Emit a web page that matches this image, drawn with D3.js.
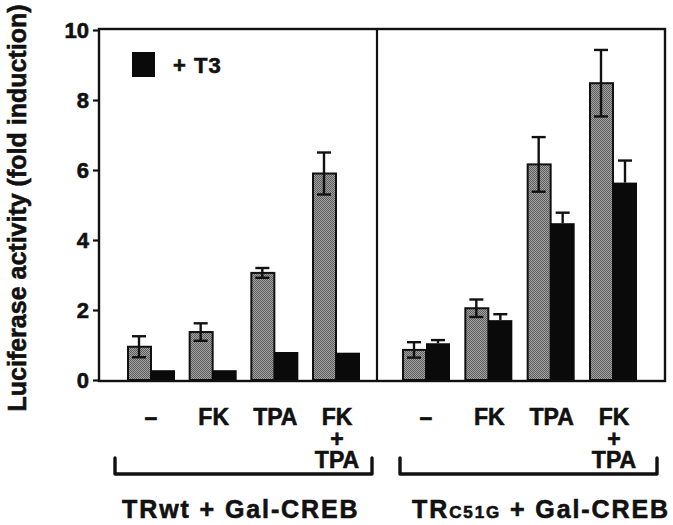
<!DOCTYPE html>
<html>
<head>
<meta charset="utf-8">
<script src="https://cdn.jsdelivr.net/npm/d3@7/dist/d3.min.js"></script>
<style>
  html, body { margin: 0; padding: 0; background: #fff; }
  svg { display: block; }
  text { font-family: "Liberation Sans", Arial, Helvetica, sans-serif; font-weight: bold; fill: #111; stroke: #111; stroke-width: 0.6px; }
</style>
</head>
<body>
<svg id="chart" width="673" height="525"></svg>
<script>
// ---------- data ----------
const conditions = ["–", "FK", "TPA", "FK+TPA"];
const conditionLines = [["–"], ["FK"], ["TPA"], ["FK", "+", "TPA"]];
const yTicks = [0, 2, 4, 6, 8, 10];
const yLabel = "Luciferase activity (fold induction)";
const legendLabel = "+ T3";

const wtControl = [0.95, 1.37, 3.06, 5.90];
const wtControlErr = [0.30, 0.25, 0.14, 0.60];
const wtT3 = [0.28, 0.28, 0.80, 0.78];
const wtT3Err = [0, 0, 0, 0];

const c51gControl = [0.86, 2.05, 6.16, 8.48];
const c51gControlErr = [0.22, 0.25, 0.78, 0.95];
const c51gT3 = [1.05, 1.71, 4.48, 5.64];
const c51gT3Err = [0.09, 0.17, 0.30, 0.63];

// ---------- layout ----------
const svg = d3.select("#chart");
const plotLeft = 99, plotRight = 665, divider = 377;
const y = d3.scaleLinear().domain([0, 10]).range([380, 30]);

const panels = [
  { x0: plotLeft, x1: divider, pad: [52, 41], ctrl: wtControl, ctrlErr: wtControlErr, t3: wtT3, t3Err: wtT3Err },
  { x0: divider, x1: plotRight, pad: [49, 52], ctrl: c51gControl, ctrlErr: c51gControlErr, t3: c51gT3, t3Err: c51gT3Err }
];
panels.forEach(p => {
  p.x = d3.scalePoint().domain(conditions).range([p.x0 + p.pad[0], p.x1 - p.pad[1]]);
});
const barW = 24;

// pattern for stippled grey bars
const defs = svg.append("defs");
const pat = defs.append("pattern").attr("id", "stipple").attr("patternUnits", "userSpaceOnUse")
  .attr("width", 2).attr("height", 2);
pat.append("rect").attr("width", 2).attr("height", 2).attr("fill", "#a2a2a2");
[[0,0],[1,1]].forEach(([a,b]) =>
  pat.append("rect").attr("x", a).attr("y", b).attr("width", 1).attr("height", 1).attr("fill", "#5e5e5e"));

// ---------- bars ----------
panels.forEach(p => {
  const g = svg.append("g");
  conditions.forEach((c, i) => {
    const cx = p.x(c);
    // grey (control)
    g.append("rect").attr("x", cx - barW + 1).attr("y", y(p.ctrl[i]))
      .attr("width", barW - 1).attr("height", y(0) - y(p.ctrl[i]))
      .attr("fill", "url(#stipple)").attr("stroke", "#111").attr("stroke-width", 2);
    // black (+T3)
    g.append("rect").attr("x", cx).attr("y", y(p.t3[i]))
      .attr("width", barW).attr("height", y(0) - y(p.t3[i]))
      .attr("fill", "#0a0a0a");
    // error bars
    const eb = (mx, v, e) => {
      if (!e) return;
      g.append("line").attr("x1", mx).attr("x2", mx).attr("y1", y(v - e)).attr("y2", y(v + e))
        .attr("stroke", "#111").attr("stroke-width", 2.4);
      [v + e, v - e].forEach(t => g.append("line").attr("x1", mx - 7).attr("x2", mx + 7)
        .attr("y1", y(t)).attr("y2", y(t)).attr("stroke", "#111").attr("stroke-width", 2.4));
    };
    eb(cx - barW / 2, p.ctrl[i], p.ctrlErr[i]);
    if (p.t3Err[i]) {
      const mx = cx + barW / 2, v = p.t3[i], e = p.t3Err[i];
      g.append("line").attr("x1", mx).attr("x2", mx).attr("y1", y(v)).attr("y2", y(v + e))
        .attr("stroke", "#111").attr("stroke-width", 2.4);
      g.append("line").attr("x1", mx - 7).attr("x2", mx + 7).attr("y1", y(v + e)).attr("y2", y(v + e))
        .attr("stroke", "#111").attr("stroke-width", 2.4);
    }
  });
});

// ---------- frame ----------
svg.append("rect").attr("x", plotLeft).attr("y", y(10) - 1)
  .attr("width", plotRight - plotLeft).attr("height", y(0) - y(10) + 2)
  .attr("fill", "none").attr("stroke", "#111").attr("stroke-width", 2.4);
svg.append("line").attr("x1", divider).attr("x2", divider).attr("y1", y(10) - 1).attr("y2", y(0) + 1)
  .attr("stroke", "#111").attr("stroke-width", 2.2);

// ---------- y axis ----------
const yAxis = d3.axisLeft(y).tickValues(yTicks).tickSize(6).tickPadding(4).tickFormat(d3.format("d"));
const ga = svg.append("g").attr("transform", `translate(${plotLeft},0)`).call(yAxis);
ga.select(".domain").remove();
ga.selectAll(".tick line").attr("stroke", "#111").attr("stroke-width", 2.2);
ga.selectAll(".tick text").style("font-size", "22px").style("font-family", '"Liberation Sans", Arial, sans-serif')
  .style("font-weight", "bold").attr("fill", "#111");

svg.append("text").attr("transform", "translate(26,208) rotate(-90)")
  .attr("text-anchor", "middle").style("font-size", "25px").text(yLabel);

// ---------- legend ----------
svg.append("rect").attr("x", 132).attr("y", 52).attr("width", 23).attr("height", 25).attr("fill", "#0a0a0a");
svg.append("text").attr("x", 173).attr("y", 73).style("font-size", "22px").style("letter-spacing", "1px").text(legendLabel);

// ---------- x labels ----------
panels.forEach(p => {
  conditions.forEach((c, i) => {
    const t = svg.append("text").attr("text-anchor", "middle").style("font-size", "23px");
    conditionLines[i].forEach((ln, k) => {
      t.append("tspan").attr("x", p.x(c) + (ln === "–" ? 0 : 1)).attr("y", 425 + k * 21.5).text(ln);
    });
  });
});

// brackets
[[115, 372], [400, 657]].forEach(([a, b]) => {
  svg.append("path").attr("d", `M${a},458 L${a},474 L${b},474 L${b},458`)
    .attr("fill", "none").attr("stroke", "#111").attr("stroke-width", 3.4)
    .attr("stroke-linejoin", "round").attr("stroke-linecap", "round");
});

// group labels
svg.append("text").attr("x", 122).attr("y", 518).style("font-size", "25px").style("letter-spacing", "1.9px")
  .text("TRwt + Gal-CREB");
const t2 = svg.append("text").attr("x", 412).attr("y", 518).style("font-size", "25px").style("letter-spacing", "1.9px");
t2.append("tspan").text("TR");
t2.append("tspan").style("font-size", "17px").text("C51G");
t2.append("tspan").text(" + Gal-CREB");
</script>
</body>
</html>
